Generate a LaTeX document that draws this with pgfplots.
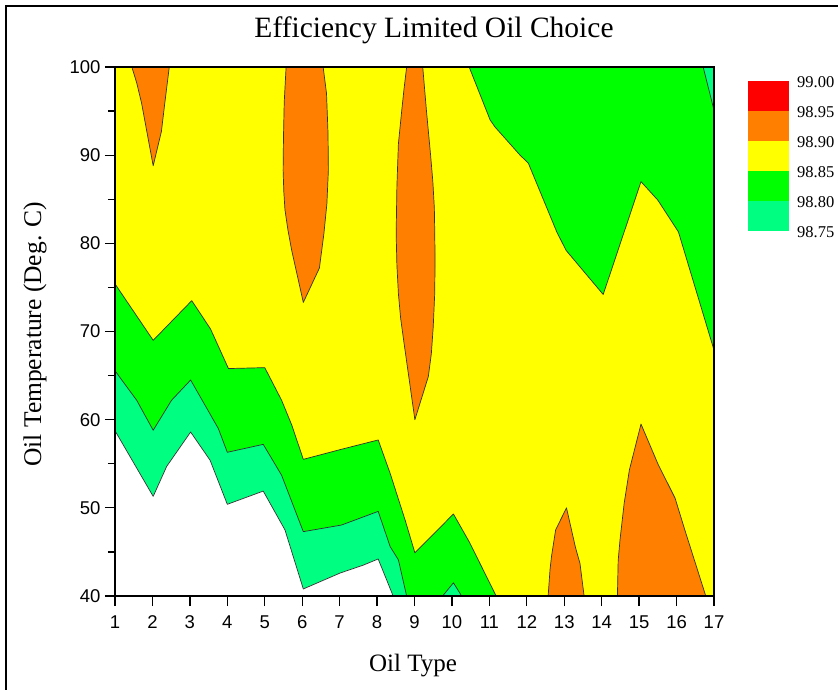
\documentclass[border=0pt]{standalone}
\usepackage{fontspec}
\setmainfont{Liberation Serif}
\newfontfamily\arialfont{Liberation Sans}
\usepackage{pgfplots}
\pgfplotsset{compat=1.18}
\definecolor{cRed}{RGB}{255,0,0}
\definecolor{cOrange}{RGB}{255,128,0}
\definecolor{cYellow}{RGB}{255,255,0}
\definecolor{cGreen}{RGB}{0,255,0}
\definecolor{cTeal}{RGB}{0,255,128}
\definecolor{cLine}{RGB}{50,50,50}
\begin{document}
\begin{tikzpicture}
\useasboundingbox (0pt,0pt) rectangle (838pt,-689pt);
\draw[line width=1.5pt] (6pt,-700pt) -- (6pt,-6pt) -- (850pt,-6pt);
\begin{axis}[
  at={(115pt,-596pt)}, anchor=south west,
  scale only axis, width=599pt, height=529pt,
  xmin=1, xmax=17, ymin=40, ymax=100,
  xtick={1,2,...,17}, ytick={40,50,...,100}, minor ytick={45,55,...,95},
  tick pos=left, tick align=outside,
  major tick length=10pt, minor tick length=7pt,
  every tick/.style={black, line width=1.3pt},
  axis line style={line width=1.6pt},
  axis on top,
  /pgf/number format/assume math mode=true,
  ticklabel style={font=\arialfont\fontsize{18.5}{21}\selectfont},
  xticklabel style={yshift=-6pt},
  yticklabel style={xshift=-1pt},
  title={Efficiency Limited Oil Choice},
  title style={font=\fontsize{29.5}{33}\selectfont, anchor=center, at={(axis description cs:0.5326,1.0586)}},
  xlabel={Oil Type},
  xlabel style={font=\fontsize{25}{30}\selectfont, anchor=base, at={(axis description cs:0.4975,-0.1418)}},
  ylabel={Oil Temperature (Deg. C)},
  ylabel style={font=\fontsize{25.5}{30}\selectfont, anchor=center, at={(axis description cs:-0.1336,0.495)}},
  contour/.style={draw=cLine, line width=0.7pt, line join=round},
]
% background level 98.85-98.90
\addplot[fill=cYellow, draw=none] coordinates {(1,40) (17,40) (17,100) (1,100) (1,40)};
% lower-left 98.80-98.85
\addplot[fill=cGreen, contour] coordinates {
 (1,40) (1,75.4) (2.02,69.0) (3.05,73.5) (3.55,70.3) (4.03,65.8) (5.0,65.9)
 (5.45,62.2) (5.72,59.4) (6.03,55.5) (7.01,56.6) (8.03,57.7) (8.35,53.9)
 (8.75,48.6) (9.01,44.9) (10.04,49.3) (10.48,46.0) (11.18,40) (1,40)};
% lower-left 98.75-98.80
\addplot[fill=cTeal, contour] coordinates {
 (1,40) (1,65.55) (1.58,62.2) (2.02,58.8) (2.51,62.2) (3.02,64.5) (3.76,59.0)
 (4.0,56.3) (4.96,57.2) (5.45,53.7) (6.03,47.3) (7.05,48.05) (8.03,49.6)
 (8.35,45.6) (8.57,44.1) (8.79,40) (1,40)};
% below 98.75
\addplot[fill=white, contour] coordinates {
 (1,40) (1,58.75) (2.02,51.3) (2.38,54.7) (3.02,58.6) (3.54,55.4) (4.0,50.4)
 (4.96,51.9) (5.54,47.5) (6.03,40.8) (7.01,42.6) (7.63,43.5) (8.03,44.2)
 (8.43,40) (1,40)};
% small 98.75-98.80 at oil 10
\addplot[fill=cTeal, contour] coordinates {(9.75,40) (10.04,41.5) (10.26,40) (9.75,40)};
% upper-right 98.80-98.85
\addplot[fill=cGreen, contour] coordinates {
 (10.46,100) (11.02,94.0) (11.15,93.2) (11.82,90.0) (12.04,89.1) (12.8,81.3)
 (13.05,79.2) (14.04,74.2) (15.05,87.0) (15.5,84.9) (16.05,81.3) (17,67.9)
 (17,100) (10.46,100)};
% upper-right corner 98.75-98.80
\addplot[fill=cTeal, contour] coordinates {(16.71,100) (17,95.1) (17,100) (16.71,100)};
% 98.90-98.95 regions
\addplot[fill=cOrange, contour] coordinates {
 (1.45,100) (1.58,98.2) (1.71,95.9) (2.02,88.8) (2.24,92.7) (2.33,95.9) (2.45,100) (1.45,100)};
\addplot[fill=cOrange, contour] coordinates {
 (5.57,100) (5.52,96) (5.5,92) (5.49,88.3) (5.51,85.8) (5.54,83.8) (5.62,81.5) (5.72,79.2) (6.03,73.3)
 (6.46,77.2) (6.58,81.1) (6.66,84.5) (6.70,88.3) (6.69,92.5) (6.65,97) (6.56,100) (5.57,100)};
\addplot[fill=cOrange, contour] coordinates {
 (8.79,100) (8.72,97.5) (8.66,95.1) (8.57,91.3) (8.53,86.5) (8.51,81.1) (8.53,77.5) (8.57,74.3) (8.63,71.5) (8.72,68.7) (9.01,60.0)
 (9.37,64.9) (9.45,67.5) (9.5,70.5) (9.54,74.3) (9.55,78.1) (9.54,81.5) (9.53,84) (9.49,87) (9.43,90) (9.32,95) (9.22,100) (8.79,100)};
\addplot[fill=cOrange, contour] coordinates {
 (12.57,40) (12.62,43) (12.66,44.5) (12.77,47.5) (13.06,50.0) (13.3,45.5)
 (13.42,43.7) (13.53,40) (12.57,40)};
\addplot[fill=cOrange, contour] coordinates {
 (14.42,40) (14.44,44) (14.49,46.4) (14.6,50.5) (14.74,54.3) (15.05,59.5)
 (15.5,55.0) (15.96,51.1) (16.22,47.5) (16.78,40) (14.42,40)};
\end{axis}
% colour key
\fill[cRed]    (748pt,-80.7pt)  rectangle (789pt,-110.8pt);
\fill[cOrange] (748pt,-110.8pt) rectangle (789pt,-140.9pt);
\fill[cYellow] (748pt,-140.9pt) rectangle (789pt,-171pt);
\fill[cGreen]  (748pt,-171pt)   rectangle (789pt,-201pt);
\fill[cTeal]   (748pt,-201pt)   rectangle (789pt,-231pt);
\begin{scope}[every node/.style={anchor=west, inner sep=0pt, font=\fontsize{16.5}{19}\selectfont}]
\node at (797pt,-82.5pt) {99.00};
\node at (797pt,-112pt) {98.95};
\node at (797pt,-142.5pt) {98.90};
\node at (797pt,-172.5pt) {98.85};
\node at (797pt,-202.5pt) {98.80};
\node at (797pt,-232.5pt) {98.75};
\end{scope}
\end{tikzpicture}
\end{document}
